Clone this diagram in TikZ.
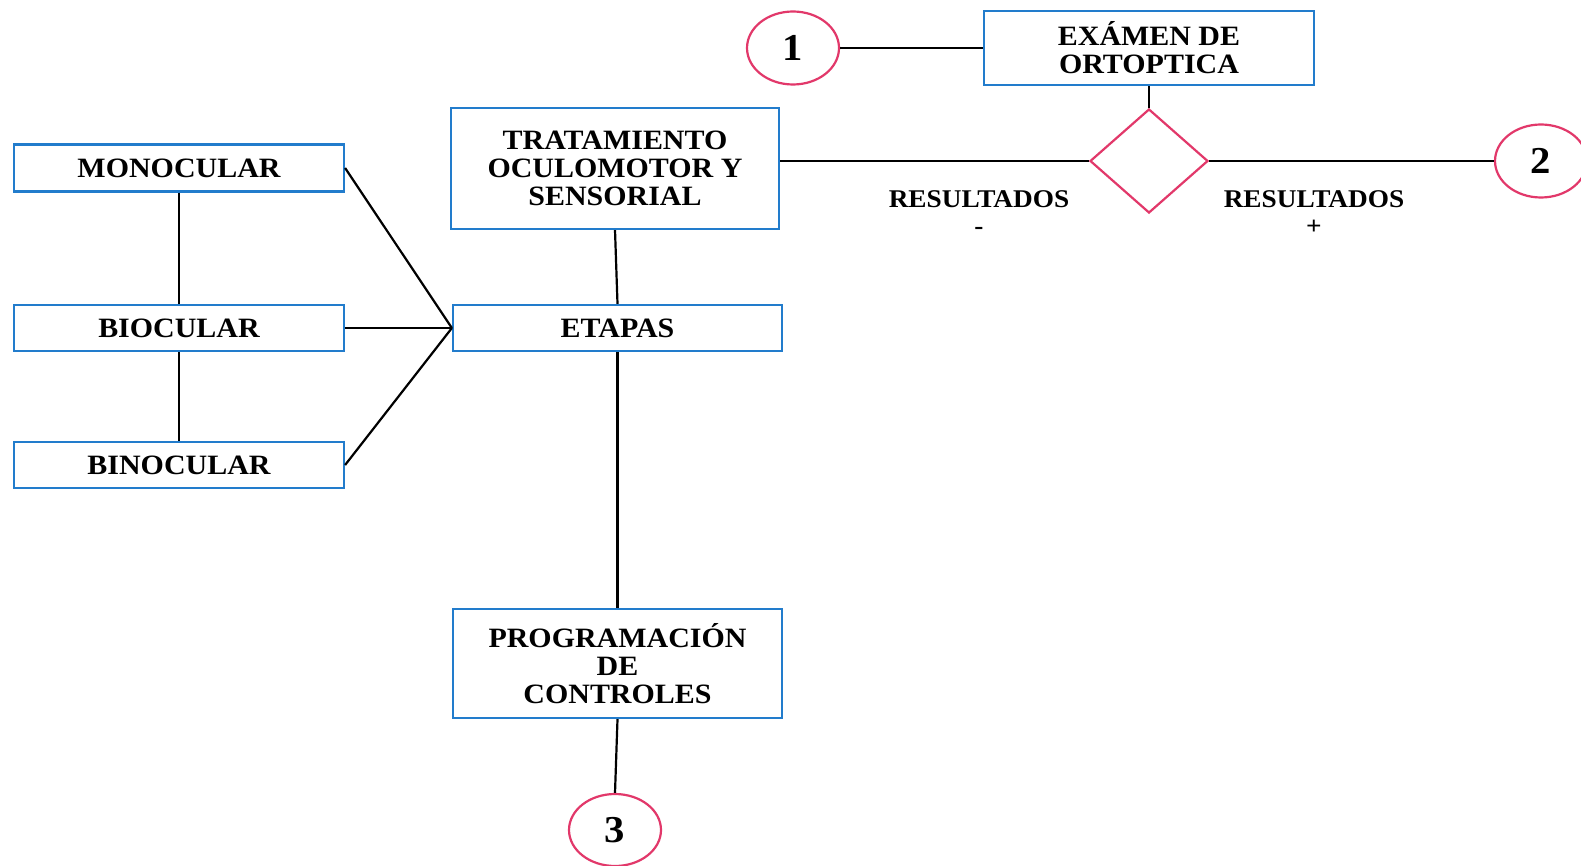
\documentclass[tikz,border=0pt]{standalone}
\usepackage{fontspec}
\setmainfont{Liberation Serif}[FakeStretch=1.07]
\usetikzlibrary{shapes.geometric}
\definecolor{boxblue}{RGB}{34,124,204}
\definecolor{pinkred}{RGB}{226,56,106}
\begin{document}
\begin{tikzpicture}[x=1pt,y=-1pt,
  box/.style={draw=boxblue,line width=2.2pt,rectangle,inner sep=0pt,align=center,
    font=\fontsize{28}{28}\selectfont\bfseries},
  num/.style={draw=pinkred,line width=2.2pt,ellipse,inner sep=0pt,
    minimum width=92pt,minimum height=73pt,font=\fontsize{38}{38}\selectfont\bfseries},
  decision/.style={draw=pinkred,line width=2.2pt,diamond,inner sep=0pt,aspect=1.135,
    minimum width=118pt,minimum height=104pt},
  lbl/.style={inner sep=0pt,align=center,font=\fontsize{25.5}{27}\selectfont\bfseries},
  link/.style={draw=black,line width=2.2pt}]
\useasboundingbox[fill=white] (0,0) rectangle (1581,866);

% stages of the treatment
\node[box,minimum width=330pt,minimum height=47pt] (mono) at (179,168) {MONOCULAR};
\node[box,minimum width=330pt,minimum height=46pt] (bio) at (179,328) {BIOCULAR};
\node[box,minimum width=330pt,minimum height=46pt] (bin) at (179,465) {BINOCULAR};
\node[box,minimum width=328pt,minimum height=121pt] (trat) at (615,168.5)
  {TRATAMIENTO\\OCULOMOTOR Y\\SENSORIAL};
\node[box,minimum width=329pt,minimum height=46pt] (etapas) at (617.5,328) {ETAPAS};
\node[box,minimum width=329pt,minimum height=109pt] (prog) at (617.5,663.5)
  {PROGRAMACIÓN\\DE\\CONTROLES};
\node[box,minimum width=330pt,minimum height=74pt] (exam) at (1149,48)
  {EXÁMEN DE\\ORTOPTICA};

% decision and connectors to other pages
\node[decision] (dec) at (1149,161) {};
\node[num] (c1) at (793,48) {1};
\node[num] (c2) at (1541,161) {2};
\node[num,minimum height=72pt] (c3) at (615,830) {3};

% result labels
\node[lbl] (neg) at (979,213) {RESULTADOS\\-};
\node[lbl] (pos) at (1314,213) {RESULTADOS\\+};

% connections
\draw[link] (c1.east) -- (exam.west);
\draw[link] (exam.south) -- (dec.north);
\draw[link] (dec.west) -- (dec.west -| trat.east);
\draw[link] (dec.east) -- (c2.west);
\draw[link] (trat.south) -- (etapas.north);
\draw[link] (etapas.south) -- (prog.north);
\draw[link] (prog.south) -- (c3.north);
\draw[link] (mono.east) -- (etapas.west);
\draw[link] (bio.east) -- (etapas.west);
\draw[link] (bin.east) -- (etapas.west);
\draw[link] (mono.south) -- (bio.north);
\draw[link] (bio.south) -- (bin.north);
\end{tikzpicture}
\end{document}
